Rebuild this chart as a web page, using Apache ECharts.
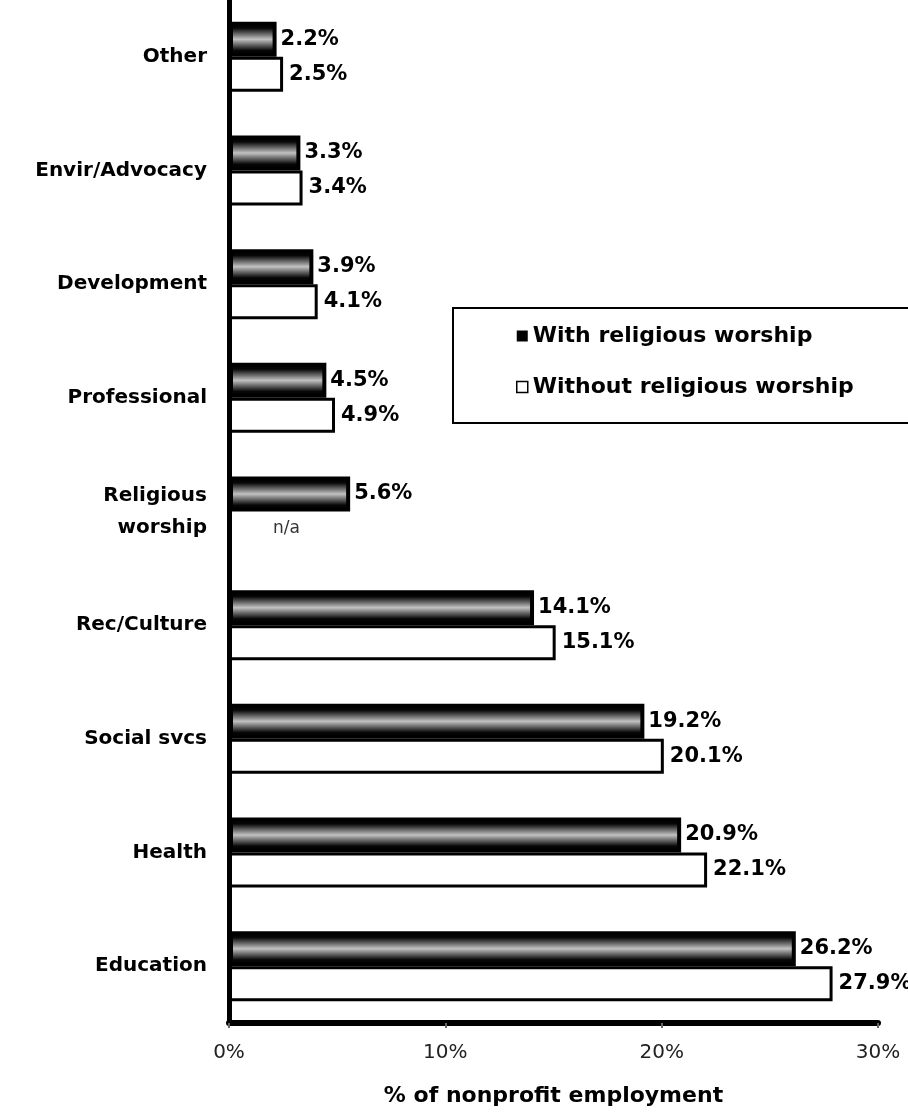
<!DOCTYPE html>
<html>
<head>
<meta charset="utf-8">
<script src="https://cdn.jsdelivr.net/npm/echarts@6/dist/echarts.min.js"></script>
<style>
html,body{margin:0;padding:0;background:#fff;}
#chart{width:908px;height:1112px;}
</style>
</head>
<body>
<div id="chart"></div>
<script>
const categories = ["Other", "Envir/Advocacy", "Development", "Professional", "Religious\nworship", "Rec/Culture", "Social svcs", "Health", "Education"];
const withWorship = [2.2, 3.3, 3.9, 4.5, 5.6, 14.1, 19.2, 20.9, 26.2];
const withoutWorship = [2.5, 3.4, 4.1, 4.9, null, 15.1, 20.1, 22.1, 27.9];
const xTicks = [0, 10, 20, 30];
const seriesNames = ["With religious worship", "Without religious worship"];
const axisTitle = "% of nonprofit employment";
const naText = "n/a";

const FONT = "DejaVu Sans";
const chart = echarts.init(document.getElementById('chart'), null, {renderer: 'canvas'});

const darkFill = new echarts.graphic.LinearGradient(0, 0, 0, 1, [
  {offset: 0, color: '#000'},
  {offset: 0.18, color: '#060606'},
  {offset: 0.38, color: '#7a7a7a'},
  {offset: 0.5, color: '#c2c2c2'},
  {offset: 0.62, color: '#7a7a7a'},
  {offset: 0.82, color: '#060606'},
  {offset: 1, color: '#000'}
]);

const withoutData = withoutWorship.map(v => {
  if (v === null) {
    return {
      value: 0,
      itemStyle: {color: 'rgba(0,0,0,0)', borderColor: 'rgba(0,0,0,0)', borderWidth: 0},
      label: {show: true, formatter: naText, distance: 44, fontSize: 17, fontWeight: 'normal', color: '#333'}
    };
  }
  return v;
});

const option = {
  backgroundColor: '#fff',
  animation: false,
  grid: {left: 229, right: 30, top: -4, bottom: 85, containLabel: false},
  legend: {
    orient: 'vertical',
    left: 453,
    top: 308,
    padding: [17, 110, 25, 63],
    itemGap: 29,
    itemWidth: 11,
    itemHeight: 11,
    itemTextGap: 4,
    borderColor: '#000',
    borderWidth: 2,
    backgroundColor: '#fff',
    textStyle: {fontFamily: FONT, fontWeight: 'bold', fontSize: 22, color: '#000'},
    data: [
      {name: seriesNames[0], icon: 'rect', itemStyle: {color: '#000', borderWidth: 0}},
      {name: seriesNames[1], icon: 'rect', itemStyle: {color: '#fff', borderColor: '#000', borderWidth: 1.5}}
    ]
  },
  xAxis: {
    type: 'value',
    min: xTicks[0],
    max: xTicks[xTicks.length - 1],
    interval: xTicks[1] - xTicks[0],
    name: axisTitle,
    nameLocation: 'middle',
    nameGap: 62,
    nameTextStyle: {fontFamily: FONT, fontWeight: 'bold', fontSize: 22, color: '#000'},
    axisLine: {show: true, lineStyle: {color: '#000', width: 6}},
    axisTick: {show: true, length: 5, lineStyle: {color: '#666', width: 2}},
    splitLine: {show: false},
    axisLabel: {formatter: '{value}%', margin: 20, fontFamily: FONT, fontSize: 20, color: '#222'}
  },
  yAxis: {
    type: 'category',
    inverse: true,
    data: categories,
    axisLine: {show: true, lineStyle: {color: '#000', width: 5}},
    axisTick: {show: false},
    splitLine: {show: false},
    axisLabel: {margin: 22, fontFamily: FONT, fontWeight: 'bold', fontSize: 20, color: '#000', lineHeight: 32, align: 'right'}
  },
  series: [
    {
      name: seriesNames[0],
      type: 'bar',
      data: withWorship,
      barWidth: 35,
      barGap: '0%',
      itemStyle: {color: darkFill, borderColor: '#000', borderWidth: 4},
      label: {
        show: true, position: 'right', distance: 4,
        formatter: p => p.value.toFixed(1) + '%',
        fontFamily: FONT, fontWeight: 'bold', fontSize: 21, color: '#000'
      },
      z: 3
    },
    {
      name: seriesNames[1],
      type: 'bar',
      data: withoutData,
      barWidth: 35,
      barGap: '0%',
      itemStyle: {color: '#fff', borderColor: '#000', borderWidth: 3},
      label: {
        show: true, position: 'right', distance: 6,
        formatter: p => p.value.toFixed(1) + '%',
        fontFamily: FONT, fontWeight: 'bold', fontSize: 21, color: '#000'
      },
      z: 2
    }
  ]
};
chart.setOption(option);
</script>
</body>
</html>
